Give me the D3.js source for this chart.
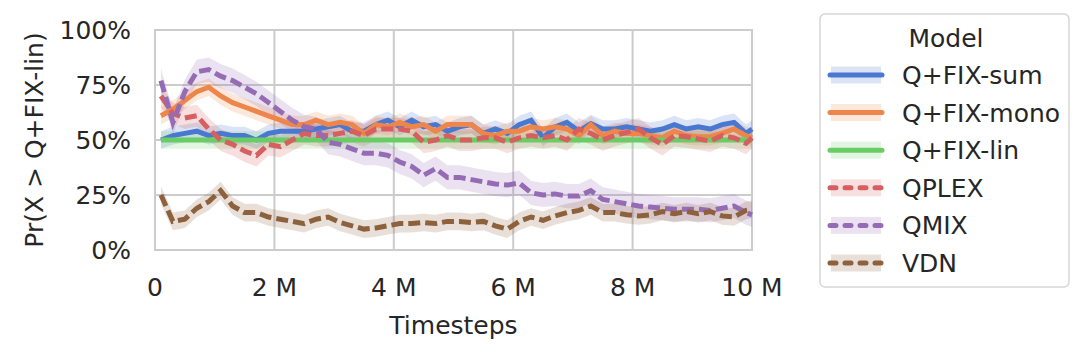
<!DOCTYPE html>
<html>
<head>
    <meta charset="utf-8">
    <title>Pr(X > Q+FIX-lin)</title>
    <script src="https://cdnjs.cloudflare.com/ajax/libs/d3/7.8.5/d3.min.js"></script>
    <style>
        body {
            margin: 0;
            background-color: white;
            font-family: "DejaVu Sans", sans-serif;
        }

        svg text {
            fill: #262626;
            font-size: 25px;
        }

        .grid line {
            stroke: #cccccc;
            stroke-width: 2px;
        }
    </style>
</head>

<body>
    <svg id="chart" width="1080" height="361"></svg>

    <script>
        // timesteps in millions
        const timesteps = [0.1, 0.3, 0.5, 0.7, 0.9, 1.1, 1.3, 1.5, 1.7, 1.9, 2.1, 2.3, 2.5,
            2.7, 2.9, 3.1, 3.3, 3.5, 3.7, 3.9, 4.1, 4.3, 4.5, 4.7, 4.9,
            5.1, 5.3, 5.5, 5.7, 5.9, 6.1, 6.3, 6.5, 6.7, 6.9, 7.1, 7.3, 7.5,
            7.7, 7.9, 8.1, 8.3, 8.5, 8.7, 8.9, 9.1, 9.3, 9.5, 9.7, 9.9, 10.0];

        const models = ["Q+FIX-sum", "Q+FIX-mono", "Q+FIX-lin", "QPLEX", "QMIX", "VDN"];
        const colors = ["#4878d0", "#ee854a", "#6acc64", "#d65f5f", "#956cb4", "#8c613c"];
        const dashed = [false, false, false, true, true, true];
        // half width of the shaded band, percentage points
        const bandWidth = [4, 4, 4, 5, 5.5, 4];

        const qfixSum = [50, 52, 53, 54, 52, 53, 52, 52, 50, 53, 54, 54, 54,
            55, 56, 57, 54, 54, 57, 59, 56, 59, 56, 57, 54,
            56, 57, 53, 55, 53, 57, 59, 51, 56, 58, 54, 57.5, 55,
            55, 56, 55, 54, 55, 57, 55, 56, 55, 57, 58, 53, 55];
        const qfixMono = [61, 64, 68, 72, 74, 70, 67, 65, 63, 61, 59, 57, 57,
            59, 57, 58, 57, 53, 57, 56, 58, 56, 57, 54, 57,
            57, 57, 53, 52, 54, 54, 56, 55, 56, 55, 52, 57, 52,
            54, 53, 53, 52, 51, 54, 52, 51.5, 51.5, 53, 55, 52, 51];
        const qfixLin = [50, 50, 50, 50, 50, 50, 50, 50, 50, 50, 50, 50, 50,
            50, 50, 50, 50, 50, 50, 50, 50, 50, 50, 50, 50,
            50, 50, 50, 50, 50, 50, 50, 50, 50, 50, 50, 50, 50,
            50, 50, 50, 50, 50, 50, 50, 50, 50, 50, 50, 50, 50];
        const qplex = [70, 62, 60, 61, 55, 50, 48, 45, 43, 48, 47, 50, 53,
            52, 52, 53, 54, 52, 55, 55, 55, 54, 49, 50, 52,
            50, 50, 51, 51, 49, 51, 52, 51, 52, 50, 55, 53, 50,
            52, 53.5, 55, 51, 48, 52, 51.5, 50.5, 49.5, 52, 51, 48.5, 51];
        const qmix = [77, 58, 72, 81, 82, 79, 77, 74, 71, 67, 63, 59, 56,
            55, 49, 48, 46, 44, 44, 43, 40, 38, 34, 37, 33,
            33, 32, 31, 30, 29.5, 30.5, 26, 25, 25.5, 24.5, 24.5, 27, 23,
            22, 21, 20, 19.5, 19, 18.5, 18.5, 18.5, 18, 19, 20, 17, 16];
        const vdn = [25, 13, 14, 19, 22, 27, 20, 17, 17, 15, 14, 13, 12,
            14, 15, 12.5, 11, 9.5, 10, 11, 12, 12, 12.5, 12, 13,
            13, 12.5, 13, 11, 9.5, 13, 15, 13.5, 15.5, 17, 18, 20, 17,
            17, 16, 15.5, 16, 17.5, 16.5, 17.5, 16.5, 17.5, 15.5, 15, 18, 18.5];

        const seriesValues = [qfixSum, qfixMono, qfixLin, qplex, qmix, vdn];

        const xTicks = [0, 2, 4, 6, 8, 10];
        const yTicks = [0, 25, 50, 75, 100];

        const svg = d3.select("#chart");
        const plotLeft = 155, plotRight = 752, plotTop = 30, plotBottom = 250;

        const x = d3.scaleLinear().domain([0, 10]).range([plotLeft, plotRight]);
        const y = d3.scaleLinear().domain([0, 100]).range([plotBottom, plotTop]);

        // grid
        const grid = svg.append("g").attr("class", "grid");
        grid.selectAll(".gx").data(xTicks).enter().append("line")
            .attr("x1", d => x(d)).attr("x2", d => x(d))
            .attr("y1", plotTop).attr("y2", plotBottom);
        grid.selectAll(".gy").data(yTicks).enter().append("line")
            .attr("x1", plotLeft).attr("x2", plotRight)
            .attr("y1", d => y(d)).attr("y2", d => y(d));

        // frame
        svg.append("rect")
            .attr("x", plotLeft).attr("y", plotTop)
            .attr("width", plotRight - plotLeft).attr("height", plotBottom - plotTop)
            .attr("fill", "none").attr("stroke", "#cccccc").attr("stroke-width", 2);

        const data = models.map((m, i) => ({
            name: m,
            color: colors[i],
            dashed: dashed[i],
            band: bandWidth[i],
            points: timesteps.map((t, j) => ({ t: t, v: seriesValues[i][j] }))
        }));

        const plot = svg.append("g");

        const area = d3.area()
            .x(d => x(d.t));

        // bands go under all lines
        data.forEach(s => {
            plot.append("path")
                .datum(s.points)
                .attr("fill", s.color)
                .attr("fill-opacity", 0.2)
                .attr("d", area.y0(d => y(d.v - s.band)).y1(d => y(d.v + s.band)));
        });

        const line = d3.line().x(d => x(d.t)).y(d => y(d.v));
        data.forEach(s => {
            plot.append("path")
                .datum(s.points)
                .attr("fill", "none")
                .attr("stroke", s.color)
                .attr("stroke-width", 5)
                .attr("stroke-dasharray", s.dashed ? "12,5" : null)
                .attr("d", line);
        });

        // axes labels
        svg.append("g").selectAll("text").data(xTicks).enter().append("text")
            .attr("x", d => x(d))
            .attr("y", 296)
            .attr("text-anchor", "middle")
            .text(d => d === 0 ? "0" : d + " M");

        svg.append("g").selectAll("text").data(yTicks).enter().append("text")
            .attr("x", 131)
            .attr("y", d => y(d) + 9)
            .attr("text-anchor", "end")
            .text(d => d + "%");

        svg.append("text")
            .attr("x", x(5))
            .attr("y", 334)
            .attr("text-anchor", "middle")
            .text("Timesteps");

        svg.append("text")
            .attr("transform", "translate(43," + y(50) + ") rotate(-90)")
            .attr("text-anchor", "middle")
            .text("Pr(X > Q+FIX-lin)");

        // legend
        const legend = svg.append("g");
        legend.append("rect")
            .attr("x", 820).attr("y", 14)
            .attr("width", 249).attr("height", 273)
            .attr("rx", 5)
            .attr("fill", "white")
            .attr("stroke", "#d6d6d6")
            .attr("stroke-width", 1.5);

        legend.append("text")
            .attr("x", 946).attr("y", 47)
            .attr("text-anchor", "middle")
            .text("Model");

        const entry = legend.selectAll(".entry").data(data).enter().append("g")
            .attr("transform", (d, i) => "translate(0," + (75 + i * 37.6) + ")");

        entry.append("rect")
            .attr("x", 831).attr("y", -8.5)
            .attr("width", 50).attr("height", 17)
            .attr("fill", d => d.color)
            .attr("fill-opacity", 0.2);

        entry.append("line")
            .attr("x1", 830).attr("x2", 882)
            .attr("stroke", d => d.color)
            .attr("stroke-width", 5)
            .attr("stroke-linecap", "round")
            .attr("stroke-dasharray", d => d.dashed ? "6,9" : null);

        entry.append("text")
            .attr("x", 902).attr("y", 9)
            .text(d => d.name);
    </script>
</body>
</html>
